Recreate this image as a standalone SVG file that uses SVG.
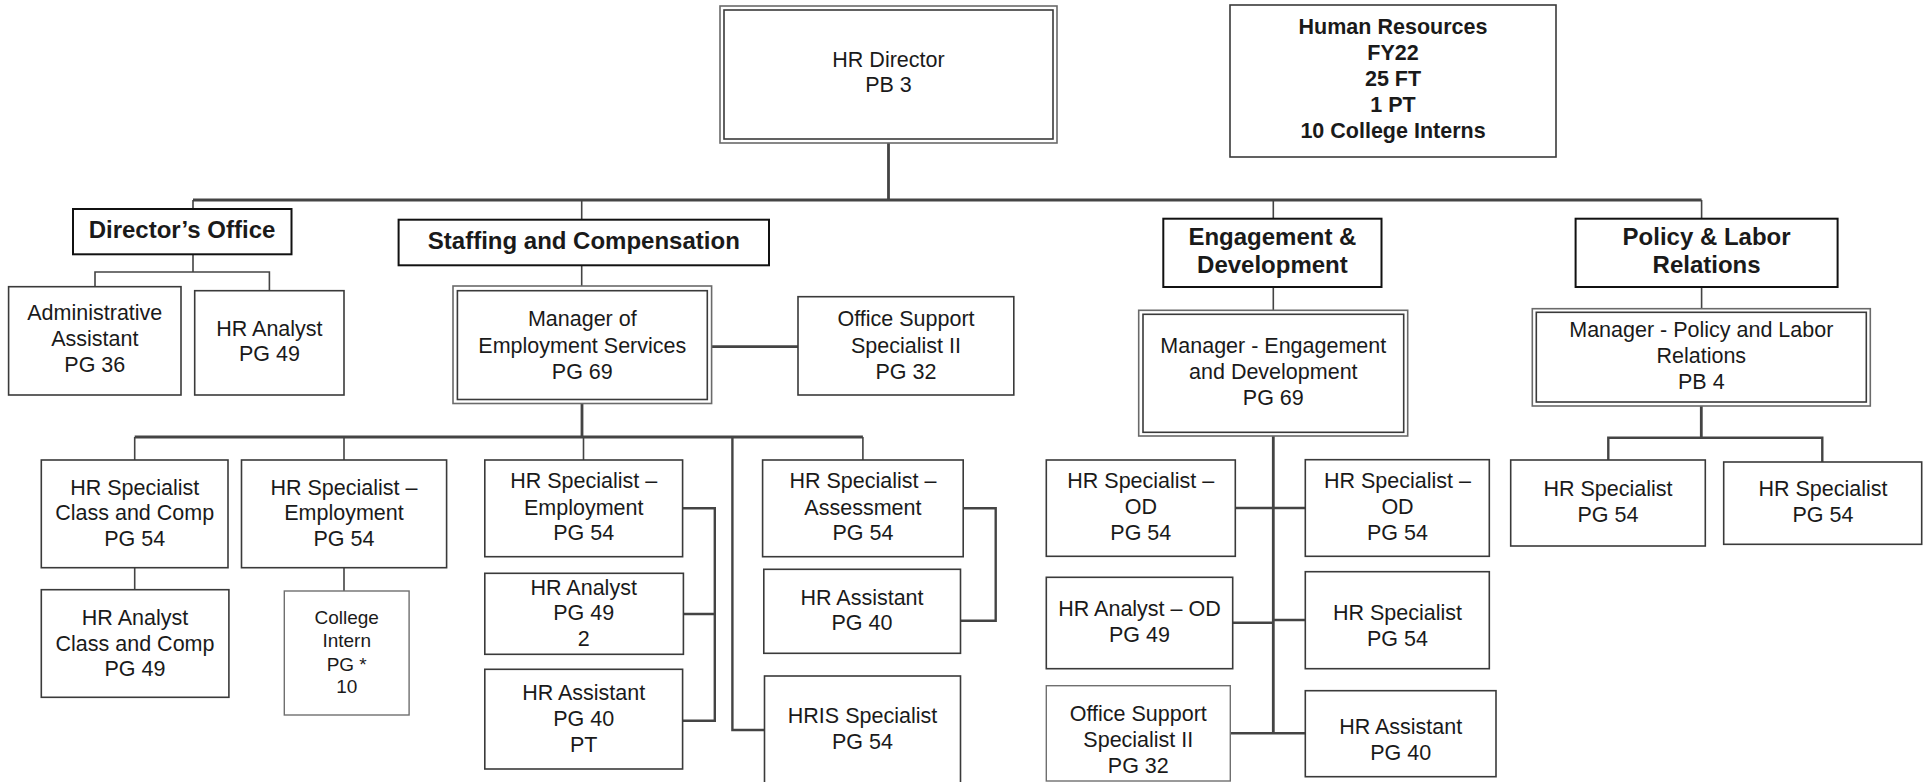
<svg xmlns="http://www.w3.org/2000/svg" width="1929" height="782" viewBox="0 0 1929 782">
<style>
text{font-family:"Liberation Sans",Arial,sans-serif;fill:#1a1a1a;text-anchor:middle}
.t{font-size:21.5px}
.b{font-size:21.5px;font-weight:bold}
.h{font-size:24px;font-weight:bold}
.s{font-size:19px}
.box{fill:#fff;stroke:#3a3a3a;stroke-width:1.6}
.lite{fill:#fff;stroke:#6f6f6f;stroke-width:1.4}
.outer{fill:#fff;stroke:#6a6a6a;stroke-width:1.6}
.inner{fill:none;stroke:#3a3a3a;stroke-width:1.6}
.hd{fill:#fff;stroke:#111;stroke-width:2}
.ln{fill:none;stroke:#444;stroke-width:1.6}
.tk{fill:none;stroke:#444;stroke-width:2.8}
.md{fill:none;stroke:#444;stroke-width:2.4}
</style>
<rect width="1929" height="782" fill="#fff"/>
<g id="connectors">
<path class="tk" d="M888.5,143V200M193,200H1701.6"/>
<path class="ln" d="M193,200V209M581.7,200V219.7M1273.3,200V218.7M1701.6,200V218.7"/>
<path class="ln" d="M193,254.3V272M95,286.7V272H269.4V290.7"/>
<path class="ln" d="M581.7,265.3V286"/>
<path class="tk" d="M711.6,346.7H798"/>
<path class="tk" d="M582,403.5V437M134.7,437H862.9"/>
<path class="ln" d="M134.7,437V460M344,437V460M583.5,437V460M862.9,437V460"/>
<path class="md" d="M732.4,437V730H764.5"/>
<path class="ln" d="M134.7,567.7V589.7M344,567.7V591"/>
<path class="md" d="M682.6,508.3H714.8V720.7H682.6M683.4,614H714.8"/>
<path class="md" d="M963.2,508.3H995.7V620.7H956"/>
<path class="ln" d="M1273.3,287V310.3M1701.6,287V308.7"/>
<path class="tk" d="M1273.3,436V733.3"/>
<path class="md" d="M1235.3,508H1305.3M1232.7,622.7H1273.3M1273.3,620H1305.3M1230.3,733.3H1305.3"/>
<path class="tk" d="M1701.3,406V437.7"/>
<path class="md" d="M1608.3,460V437.7H1822.3V462"/>
</g>
<g id="hr-director">
<rect class="outer" x="720" y="6" width="337" height="137"/>
<rect class="inner" x="724" y="10" width="329" height="129"/>
<text class="t"><tspan x="888.5" y="67.3">HR Director</tspan><tspan x="888.5" y="92.3">PB 3</tspan></text>
</g>
<g id="hr-summary">
<rect class="box" x="1230" y="5" width="326" height="152"/>
<text class="b"><tspan x="1393" y="34.3">Human Resources</tspan><tspan x="1393" y="60.3">FY22</tspan><tspan x="1393" y="86.3">25 FT</tspan><tspan x="1393" y="112.3">1 PT</tspan><tspan x="1393" y="138.3">10 College Interns</tspan></text>
</g>
<g id="directors-office">
<rect class="hd" x="73" y="209" width="218.5" height="45.3"/>
<text class="h" x="182" y="238.4">Director’s Office</text>
</g>
<g id="admin-assistant">
<rect class="box" x="8.6" y="286.7" width="172.4" height="108.3"/>
<text class="t"><tspan x="94.8" y="320.3">Administrative</tspan><tspan x="94.8" y="346.3">Assistant</tspan><tspan x="94.8" y="372.3">PG 36</tspan></text>
</g>
<g id="do-hr-analyst">
<rect class="box" x="194.7" y="290.7" width="149.3" height="104.3"/>
<text class="t"><tspan x="269.4" y="336.3">HR Analyst</tspan><tspan x="269.4" y="361.3">PG 49</tspan></text>
</g>
<g id="staffing">
<rect class="hd" x="398.6" y="219.7" width="370.4" height="45.6"/>
<text class="h" x="583.8" y="249.4">Staffing and Compensation</text>
</g>
<g id="mgr-employment">
<rect class="outer" x="453" y="286" width="258.6" height="117.5"/>
<rect class="inner" x="457.4" y="290.7" width="249.9" height="108.8"/>
<text class="t"><tspan x="582.3" y="326.3">Manager of</tspan><tspan x="582.3" y="353">Employment Services</tspan><tspan x="582.3" y="378.6">PG 69</tspan></text>
</g>
<g id="sc-office-support">
<rect class="box" x="798" y="296.7" width="215.8" height="98.3"/>
<text class="t"><tspan x="906" y="326.3">Office Support</tspan><tspan x="906" y="353">Specialist II</tspan><tspan x="906" y="378.6">PG 32</tspan></text>
</g>
<g id="spec-class-comp">
<rect class="box" x="41.3" y="460" width="186.7" height="107.7"/>
<text class="t"><tspan x="134.7" y="494.6">HR Specialist</tspan><tspan x="134.7" y="520.3">Class and Comp</tspan><tspan x="134.7" y="546.3">PG 54</tspan></text>
</g>
<g id="analyst-class-comp">
<rect class="box" x="41.3" y="589.7" width="187.6" height="107.6"/>
<text class="t"><tspan x="135" y="624.6">HR Analyst</tspan><tspan x="135" y="650.6">Class and Comp</tspan><tspan x="135" y="676.3">PG 49</tspan></text>
</g>
<g id="spec-employment-1">
<rect class="box" x="241.5" y="460" width="205.1" height="107.7"/>
<text class="t"><tspan x="344" y="494.6">HR Specialist –</tspan><tspan x="344" y="520.3">Employment</tspan><tspan x="344" y="546.3">PG 54</tspan></text>
</g>
<g id="college-intern">
<rect class="lite" x="284.3" y="591" width="124.8" height="124"/>
<text class="s"><tspan x="346.7" y="624">College</tspan><tspan x="346.7" y="647.4">Intern</tspan><tspan x="346.7" y="670.7">PG *</tspan><tspan x="346.7" y="693">10</tspan></text>
</g>
<g id="spec-employment-2">
<rect class="box" x="484.8" y="460" width="197.8" height="96.7"/>
<text class="t"><tspan x="583.7" y="488">HR Specialist –</tspan><tspan x="583.7" y="514.6">Employment</tspan><tspan x="583.7" y="540.3">PG 54</tspan></text>
</g>
<g id="analyst-49-2">
<rect class="box" x="484.8" y="573.3" width="198.6" height="81"/>
<text class="t"><tspan x="583.7" y="594.6">HR Analyst</tspan><tspan x="583.7" y="620.3">PG 49</tspan><tspan x="583.7" y="645.6">2</tspan></text>
</g>
<g id="assistant-pt">
<rect class="box" x="484.8" y="669.3" width="197.8" height="99.7"/>
<text class="t"><tspan x="583.7" y="700.3">HR Assistant</tspan><tspan x="583.7" y="726.3">PG 40</tspan><tspan x="583.7" y="752">PT</tspan></text>
</g>
<g id="spec-assessment">
<rect class="box" x="762.6" y="460" width="200.6" height="96.7"/>
<text class="t"><tspan x="862.9" y="488">HR Specialist –</tspan><tspan x="862.9" y="514.6">Assessment</tspan><tspan x="862.9" y="540.3">PG 54</tspan></text>
</g>
<g id="assessment-assistant">
<rect class="box" x="763.8" y="569.3" width="196.7" height="84"/>
<text class="t"><tspan x="862" y="604.6">HR Assistant</tspan><tspan x="862" y="630.3">PG 40</tspan></text>
</g>
<g id="hris-specialist">
<rect class="box" x="764.5" y="676" width="196" height="110"/>
<text class="t"><tspan x="862.5" y="723">HRIS Specialist</tspan><tspan x="862.5" y="748.6">PG 54</tspan></text>
</g>
<g id="engagement">
<rect class="hd" x="1163.3" y="218.7" width="218.2" height="68.3"/>
<text class="h"><tspan x="1272.4" y="244.6">Engagement &amp;</tspan><tspan x="1272.4" y="273">Development</tspan></text>
</g>
<g id="mgr-engagement">
<rect class="outer" x="1138.7" y="310.3" width="269" height="125.7"/>
<rect class="inner" x="1143" y="314.3" width="260.7" height="118"/>
<text class="t"><tspan x="1273.3" y="353">Manager - Engagement</tspan><tspan x="1273.3" y="379">and Development</tspan><tspan x="1273.3" y="405">PG 69</tspan></text>
</g>
<g id="od-spec-left">
<rect class="box" x="1046.3" y="460" width="189" height="96.3"/>
<text class="t"><tspan x="1140.8" y="488.3">HR Specialist –</tspan><tspan x="1140.8" y="514">OD</tspan><tspan x="1140.8" y="540">PG 54</tspan></text>
</g>
<g id="od-spec-right">
<rect class="box" x="1305.3" y="459.7" width="184" height="96.6"/>
<text class="t"><tspan x="1397.5" y="488.3">HR Specialist –</tspan><tspan x="1397.5" y="514">OD</tspan><tspan x="1397.5" y="540">PG 54</tspan></text>
</g>
<g id="od-analyst">
<rect class="box" x="1046.3" y="577.3" width="186.4" height="91.4"/>
<text class="t"><tspan x="1139.5" y="616.3">HR Analyst – OD</tspan><tspan x="1139.5" y="642">PG 49</tspan></text>
</g>
<g id="ed-specialist">
<rect class="box" x="1305.3" y="571.7" width="184" height="97"/>
<text class="t"><tspan x="1397.5" y="619.6">HR Specialist</tspan><tspan x="1397.5" y="645.6">PG 54</tspan></text>
</g>
<g id="ed-office-support">
<rect class="lite" x="1046.3" y="685.7" width="184" height="95.3"/>
<text class="t"><tspan x="1138.3" y="721">Office Support</tspan><tspan x="1138.3" y="747.3">Specialist II</tspan><tspan x="1138.3" y="773">PG 32</tspan></text>
</g>
<g id="ed-assistant">
<rect class="box" x="1305.3" y="690.7" width="190.7" height="86"/>
<text class="t"><tspan x="1400.7" y="734">HR Assistant</tspan><tspan x="1400.7" y="759.6">PG 40</tspan></text>
</g>
<g id="policy">
<rect class="hd" x="1575.6" y="218.7" width="262" height="68.3"/>
<text class="h"><tspan x="1706.6" y="244.6">Policy &amp; Labor</tspan><tspan x="1706.6" y="273">Relations</tspan></text>
</g>
<g id="mgr-policy">
<rect class="outer" x="1532.3" y="308.7" width="338" height="97.3"/>
<rect class="inner" x="1536.3" y="312.3" width="330" height="89.7"/>
<text class="t"><tspan x="1701.3" y="337.3">Manager - Policy and Labor</tspan><tspan x="1701.3" y="363">Relations</tspan><tspan x="1701.3" y="389">PB 4</tspan></text>
</g>
<g id="pl-spec-1">
<rect class="box" x="1510.7" y="460" width="194.6" height="86"/>
<text class="t"><tspan x="1608" y="496.3">HR Specialist</tspan><tspan x="1608" y="521.6">PG 54</tspan></text>
</g>
<g id="pl-spec-2">
<rect class="box" x="1723.7" y="462" width="198" height="82.3"/>
<text class="t"><tspan x="1823" y="496.3">HR Specialist</tspan><tspan x="1823" y="521.6">PG 54</tspan></text>
</g>
</svg>
